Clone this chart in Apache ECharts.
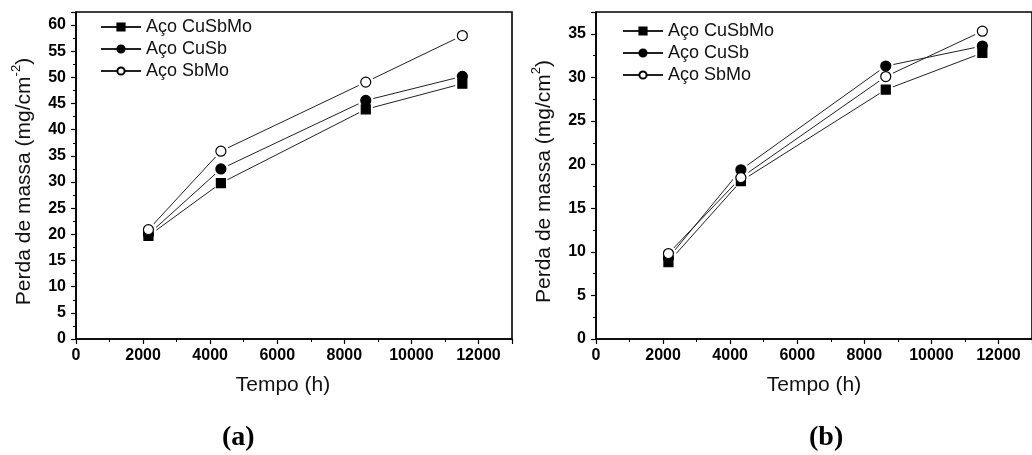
<!DOCTYPE html>
<html>
<head>
<meta charset="utf-8">
<script src="https://cdn.jsdelivr.net/npm/echarts@6/dist/echarts.min.js"></script>
<style>
  html, body { margin: 0; padding: 0; background: #fff; }
  #chart { width: 1032px; height: 455px; }
</style>
</head>
<body>
<div id="chart"></div>
<script>
// Exposure time (h)
const hours = [2160, 4320, 8640, 11520];
const steelNames = ['Aço CuSbMo', 'Aço CuSb', 'Aço SbMo'];

// Panel (a): mass loss (mg/cm-2)
const lossA_CuSbMo = [19.7, 29.8, 43.9, 48.8];
const lossA_CuSb   = [20.0, 32.5, 45.6, 50.2];
const lossA_SbMo   = [20.9, 35.9, 49.1, 58.0];

// Panel (b): mass loss (mg/cm2)
const lossB_CuSbMo = [8.8, 18.1, 28.6, 32.8];
const lossB_CuSb   = [9.3, 19.4, 31.3, 33.6];
const lossB_SbMo   = [9.8, 18.5, 30.1, 35.3];

const panelLabels = ['(a)', '(b)'];

const FONT = '"Liberation Sans", Arial, sans-serif';
const SERIF = '"Liberation Serif", "Times New Roman", serif';

const markerStyles = [
  { symbol: 'rect', size: 9, fill: '#000', stroke: '#000' },
  { symbol: 'circle', size: 10, fill: '#000', stroke: '#000' },
  { symbol: 'circle', size: 10, fill: '#fff', stroke: '#000' }
];

function pairs(values) {
  return hours.map((h, i) => [h, values[i]]);
}

function xAxisFor(gridIndex) {
  return {
    type: 'value', gridIndex, min: 0, max: 13000, interval: 2000,
    name: 'Tempo (h)', nameLocation: 'middle', nameGap: 36,
    nameTextStyle: { fontFamily: FONT, fontSize: 21, color: '#111',
      padding: gridIndex === 0 ? [0, 22, 0, 0] : [0, 0, 0, 0] },
    axisLine: { show: true, lineStyle: { color: '#000', width: 1.6 } },
    axisTick: { show: true, inside: false, length: 5, lineStyle: { color: '#000', width: 1.2 } },
    minorTick: { show: true, splitNumber: 2, length: 3, lineStyle: { color: '#000', width: 1 } },
    axisLabel: { fontFamily: FONT, fontWeight: 'bold', fontSize: 16, color: '#000', margin: 9,
      showMaxLabel: false, formatter: v => String(v) },
    splitLine: { show: false }
  };
}

function yAxisFor(gridIndex, max, nameRich) {
  return {
    type: 'value', gridIndex, min: 0, max, interval: 5,
    name: nameRich, nameLocation: 'middle', nameGap: 41, nameRotate: 90,
    nameTextStyle: {
      fontFamily: FONT, fontSize: 21, color: '#111', padding: [0, 12, 0, 0],
      rich: {
        t: { fontFamily: FONT, fontSize: 21, color: '#111', lineHeight: 25, verticalAlign: 'bottom' },
        s: { fontFamily: FONT, fontSize: 13, color: '#111', lineHeight: 25, verticalAlign: 'top', padding: [0, 0, 8, 0] }
      }
    },
    axisLine: { show: true, lineStyle: { color: '#000', width: 1.6 } },
    axisTick: { show: true, inside: false, length: 5, lineStyle: { color: '#000', width: 1.2 } },
    minorTick: { show: true, splitNumber: 2, length: 3, lineStyle: { color: '#000', width: 1 } },
    axisLabel: { fontFamily: FONT, fontWeight: 'bold', fontSize: 16, color: '#000', margin: 10,
      showMaxLabel: false },
    splitLine: { show: false }
  };
}

function panelSeries(idx, valuesList) {
  const out = [];
  valuesList.forEach((vals, k) => {
    const m = markerStyles[k];
    // connecting line (also feeds the legend icon)
    out.push({
      type: 'line', name: steelNames[k], xAxisIndex: idx, yAxisIndex: idx,
      data: pairs(vals), z: 2,
      symbol: m.symbol, symbolSize: m.size,
      itemStyle: { color: m.fill, borderColor: m.stroke, borderWidth: 1 },
      lineStyle: { color: '#222', width: 1 },
      emphasis: { disabled: true }, animation: false
    });
  });
  valuesList.forEach((vals, k) => {
    const m = markerStyles[k];
    // white ring that keeps line ends off the markers
    out.push({
      type: 'scatter', xAxisIndex: idx, yAxisIndex: idx, data: pairs(vals), z: 3,
      symbol: 'circle', symbolSize: m.size + 6,
      itemStyle: { color: '#fff', opacity: 1 }, silent: true, animation: false
    });
  });
  valuesList.forEach((vals, k) => {
    const m = markerStyles[k];
    out.push({
      type: 'scatter', xAxisIndex: idx, yAxisIndex: idx, data: pairs(vals), z: 4,
      symbol: m.symbol, symbolSize: m.size,
      itemStyle: { color: m.fill, borderColor: m.stroke, borderWidth: 1.2, opacity: 1 },
      silent: true, animation: false
    });
  });
  return out;
}

function legendFor(left, top) {
  return {
    orient: 'vertical', left, top, padding: 0, itemWidth: 40, itemHeight: 9, itemGap: 2,
    data: steelNames, selectedMode: false,
    textStyle: { fontFamily: FONT, fontSize: 18, color: '#111', lineHeight: 20 }
  };
}

const chart = echarts.init(document.getElementById('chart'), null, { renderer: 'canvas' });

chart.setOption({
  backgroundColor: '#fff',
  animation: false,
  grid: [
    { left: 76, top: 12, right: 520, bottom: 116, show: true, borderColor: '#000', borderWidth: 1.6 },
    { left: 596, top: 12, right: -4, bottom: 116, show: true, borderColor: '#000', borderWidth: 1.6 }
  ],
  legend: [legendFor(100, 17), legendFor(622, 21)],
  xAxis: [xAxisFor(0), xAxisFor(1)],
  yAxis: [
    yAxisFor(0, 62.5, '{t|Perda de massa (mg/cm}{s|-2}{t|)}'),
    yAxisFor(1, 37.5, '{t|Perda de massa (mg/cm}{s|2}{t|)}')
  ],
  series: [
    ...panelSeries(0, [lossA_CuSbMo, lossA_CuSb, lossA_SbMo]),
    ...panelSeries(1, [lossB_CuSbMo, lossB_CuSb, lossB_SbMo])
  ],
  graphic: [
    { type: 'text', left: 240 - 18, top: 424,
      style: { text: panelLabels[0], fontFamily: SERIF, fontWeight: 'bold', fontSize: 28, fill: '#000' } },
    { type: 'text', left: 827 - 18, top: 424,
      style: { text: panelLabels[1], fontFamily: SERIF, fontWeight: 'bold', fontSize: 28, fill: '#000' } }
  ]
});
</script>
</body>
</html>
